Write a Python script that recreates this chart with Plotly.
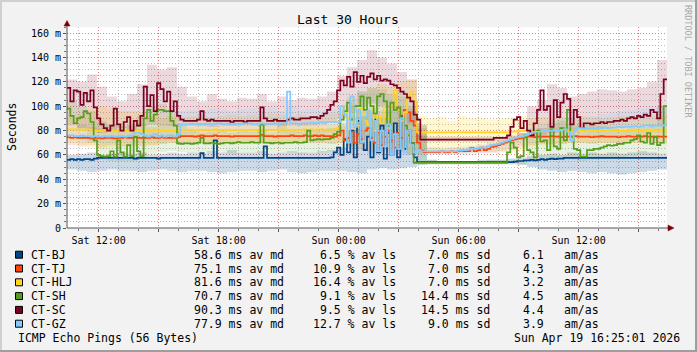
import plotly.graph_objects as go
import pandas as pd

# ---------------- data ----------------
START = pd.Timestamp("2026-04-18 10:25:00")
END = pd.Timestamp("2026-04-19 16:25:00")
STEP_MED = "10min"
STEP_SMOKE = "30min"

hosts = ["CT-BJ", "CT-TJ", "CT-HLJ", "CT-SH", "CT-SC", "CT-GZ"]
colors = ["#004586", "#FF420E", "#FFD320", "#579D1C", "#7E0021", "#83CAFF"]
smoke_alpha = [0.2, 0.14, 0.2, 0.14, 0.15, 0.16]
avg_median = ["58.6", "75.1", "81.6", "70.7", "90.3", "77.9"]
avg_loss = ["6.5", "10.9", "16.4", "9.1", "9.5", "12.7"]
avg_sd = ["7.0", "7.0", "7.0", "14.4", "14.5", "9.0"]
am_as = ["6.1", "4.3", "3.2", "4.5", "4.4", "3.9"]

y_tickvals = [0, 20, 40, 60, 80, 100, 120, 140, 160]
y_ticktext = ["0", "20 m", "40 m", "60 m", "80 m", "100 m", "120 m", "140 m", "160 m"]
x_tickvals = ["2026-04-18 12:00", "2026-04-18 15:00", "2026-04-18 18:00", "2026-04-18 21:00",
              "2026-04-19 00:00", "2026-04-19 03:00", "2026-04-19 06:00", "2026-04-19 09:00",
              "2026-04-19 12:00", "2026-04-19 15:00"]
x_ticktext = ["Sat 12:00", "", "Sat 18:00", "", "Sun 00:00", "", "Sun 06:00", "", "Sun 12:00", ""]

# median RTT (ms), one value per 10 minutes (6 per hour, 30 hours)
med_bj = [
    56, 56.5, 56, 56.5, 56, 56.5,  56.5, 56, 57, 57.5, 57.5, 57.5,
    57.5, 57.5, 57.5, 57.5, 57.5, 57.5,  57.5, 57.5, 57, 57.5, 57.5, 57.5,
    57.5, 57.5, 57.5, 57, 57.5, 57.5,  57.5, 57.5, 57.5, 57.5, 57.5, 57.5,
    57.5, 57.5, 57.5, 57.5, 61.5, 57.5,  57.5, 57.5, 72, 57.5, 57.5, 57.5,
    57.5, 57.5, 57.5, 57.5, 57.5, 57.5,  57.5, 57.5, 57.5, 57.5, 57.5, 67,
    57.5, 57.5, 57.5, 57.5, 57.5, 57.5,  57.5, 57.5, 57.5, 57.5, 57.5, 57.5,
    57.5, 57.5, 57.5, 57.5, 57.5, 57.5,  57.5, 58, 62, 66, 60, 73,
    62, 80, 58, 88, 70, 64,  75, 58, 89, 62, 84, 57,
    78, 60, 86, 58, 92, 65,  80, 70, 58, 54, 54, 54,
    54, 54, 54, 54, 54, 54,  54, 54, 54, 54, 54, 54,
    54, 54, 54, 54, 54, 54,  54, 54, 54, 54, 54, 54,
    54, 54, 54.5, 55, 55, 55.5,  55.5, 56, 55.5, 56, 56.5, 56,
    56.5, 57, 56.5, 57, 57, 57.5,  57.5, 57.5, 57.5, 57.5, 57.5, 57.5,
    57.5, 57.5, 57.5, 57.5, 57.5, 57.5,  57.5, 57.5, 57.5, 57.5, 57.5, 57.5,
    57.5, 57.5, 57.5, 57.5, 57.5, 57.5,  57.5, 57.5, 57.5, 57.5, 57.5, 57.5,
]
med_tj = [
    74.5, 74, 74.5, 74, 74, 74,  74, 73.5, 74, 74, 73.5, 74,
    74, 74, 73.5, 74, 74, 74.5,  74, 74, 74.5, 74, 74, 74,
    74, 74.5, 74, 74, 74.5, 74,  74, 74, 74, 74.5, 75.5, 75.5,
    75.5, 75.5, 75, 75.5, 76, 75.5,  75.5, 75.5, 76, 75.5, 75.5, 75.5,
    75.5, 75, 75.5, 75.5, 75.5, 75.5,  75.5, 75.5, 75.5, 75.5, 76.5, 75.5,
    75.5, 75.5, 75, 75.5, 75.5, 75.5,  75.5, 76, 75.5, 75.5, 75.5, 76,
    75.5, 75.5, 76, 75.5, 76, 75.5,  75.5, 75.5, 75, 76, 80, 72,
    74, 79, 70, 77, 73, 80,  82, 74, 70, 78, 68, 75,
    80, 72, 66, 78, 74, 97,  95, 88, 84, 70, 63.5, 62.5,
    62.5, 62.5, 62.5, 62.5, 63, 62.5,  62.5, 63, 62.5, 63, 63.5, 63,
    63, 65.5, 63, 64, 66, 64,  65, 66.5, 67, 68, 69, 70,
    71, 72, 73, 73.5, 74, 74.5,  75, 75, 74.5, 75, 75, 75,
    75, 75.5, 75, 75, 74.5, 75,  75, 75, 75.5, 75, 75, 75,
    75, 74.5, 75, 75, 75.5, 75,  75, 75, 75, 74.5, 75, 75,
    75.5, 75, 75, 75, 75, 75.5,  75, 75, 74.5, 75, 75, 75,
]
med_hlj = [
    81, 81, 81, 81, 80.5, 81,  81, 80.5, 80, 80, 79.5, 80,
    80, 80, 79.5, 80, 80, 80,  80, 80.5, 80, 80, 79.5, 80,
    80, 80, 80.5, 80, 80, 80,  80, 80, 80, 80, 80.5, 80.5,
    80.5, 80.5, 80, 80.5, 80.5, 80.5,  80.5, 80.5, 81, 80.5, 80.5, 80.5,
    80.5, 80, 80.5, 80.5, 80.5, 80,  80.5, 80.5, 80.5, 80, 80.5, 80.5,
    80.5, 80.5, 80.5, 80.5, 81, 80.5,  80.5, 80.5, 80.5, 80.5, 80.5, 81,
    80.5, 81, 80.5, 81, 81, 80.5,  80.5, 80.5, 81, 82, 93, 100,
    90, 102, 95, 84, 98, 88,  85, 96, 80, 92, 86, 99,
    90, 100, 113, 97, 88, 95,  108, 112, 104, 78.5, 78.5, 78.5,
    78.5, 78.5, 78.5, 78.5, 78.5, 78.5,  78.5, 78.5, 78.5, 78.5, 78.5, 78.5,
    78.5, 78.5, 78.5, 78.5, 78.5, 78.5,  78.5, 78.5, 78.5, 78.5, 78.5, 78.5,
    78.5, 79, 79, 79.5, 80, 80,  80, 80, 80.5, 80, 80, 80,
    80, 80.5, 80, 80, 80, 80.5,  80, 80, 80, 80.5, 80, 80,
    80.5, 80, 80, 80, 80.5, 80,  80, 80, 80.5, 80, 80, 80,
    80, 80.5, 80, 80, 80, 80.5,  80, 80, 80.5, 80, 80, 80.5,
]
med_sh = [
    98, 92, 86, 90, 91, 96,  94, 87, 72, 60, 59, 58.5,
    59, 63, 58.5, 72, 62, 58.5,  68, 59, 75, 63, 59, 90,
    97, 88, 93, 97, 97, 96,  96, 88, 84, 69.5, 69, 69.5,
    69.5, 69, 69.5, 70, 74, 69.5,  69.5, 70, 69.5, 69, 69.5, 70,
    70, 69.5, 70, 70.5, 70, 70,  70, 70.5, 70, 70, 85, 70,
    70, 69.5, 70, 70, 69.5, 70,  70, 70, 70.5, 70, 70, 70.5,
    80, 72, 72.5, 73, 72.5, 73,  73, 74, 77, 79, 89, 96,
    103, 89, 100, 100, 108, 97,  107, 100, 94, 108, 110, 104,
    84, 103, 97, 99, 90, 84,  76, 70, 53.5, 53.5, 53.5, 53.5,
    53.5, 53.5, 53.5, 53.5, 53.5, 53.5,  53.5, 53.5, 53.5, 53.5, 53.5, 53.5,
    53.5, 53.5, 53.5, 53.5, 53.5, 53.5,  53.5, 53.5, 53.5, 53.5, 53.5, 53.5,
    62, 70, 66, 58, 59, 76,  64, 62, 58, 80, 71, 72,
    64, 81, 67, 65, 82, 72,  97, 75, 65, 64, 58.5, 58.5,
    64, 64, 65, 65, 66, 67,  68, 67.5, 68, 69, 69, 70,
    70, 72, 73, 76, 71, 70,  78, 69, 75, 68, 70, 100,
]
med_sc = [
    115, 104, 113, 112, 101, 111,  104, 113, 99, 90, 85, 82,
    80, 84, 98, 85, 80, 87,  91, 80, 88, 84, 92, 116,
    100, 109, 96, 119, 114, 104,  112, 96, 104, 92, 89, 88,
    88, 88, 88, 89, 96, 89,  88, 89, 88, 88, 88, 88,
    88, 87, 88, 88, 88, 87,  88, 88, 88, 88, 99, 90,
    88, 88, 89, 88, 88, 88,  89, 90, 89, 89, 90, 90,
    90, 91, 91, 90, 92, 94,  97, 101, 104, 113, 121, 117,
    124, 116, 128, 120, 125, 119,  124, 127, 122, 125, 121, 122,
    121, 118, 117, 115, 112, 110,  107, 104, 93, 89, 72.5, 72.5,
    72.5, 72.5, 72.5, 72.5, 72.5, 72.5,  72.5, 72.5, 72.5, 72.5, 72.5, 72.5,
    72.5, 72.5, 72.5, 72.5, 72.5, 72.5,  72.5, 72.5, 74, 74, 74, 74,
    76, 83, 89, 91, 82, 88,  80, 76, 86, 97, 113, 97,
    100, 83, 105, 91, 103, 110,  106, 85, 97, 91, 82, 86,
    86, 85, 86, 86, 87, 86,  87, 87, 88, 88, 89, 88,
    90, 91, 90, 92, 91, 93,  92, 97, 95, 90, 110, 122,
]
med_gz = [
    76, 76, 75.5, 75.5, 76, 75.5,  75.5, 75, 75.5, 75, 75, 75.5,
    75, 75.5, 75, 75, 75.5, 75,  75.5, 76, 78, 78, 77, 76,
    75, 76, 77, 75, 76, 75,  76, 76, 75, 77, 85, 85,
    85, 85.5, 85, 85.5, 85, 85.5,  85.5, 85, 85.5, 86, 85.5, 85,
    85.5, 85, 85.5, 85, 85.5, 86,  86, 85.5, 85, 85.5, 86, 85.5,
    85.5, 85.5, 86, 85.5, 86, 86,  112, 86, 86, 85.5, 86, 86,
    86, 86.5, 86, 86.5, 87, 86.5,  87, 87, 87, 87, 100, 93,
    70, 108, 83, 97, 70, 91,  96, 72, 88, 63, 80, 67,
    85, 60, 77, 65, 90, 62,  80, 68, 62, 64, 63, 63,
    63, 63, 63, 63, 63, 63,  63, 63, 63, 63.5, 64, 64,
    64.5, 65, 65, 65.5, 66, 66,  67, 68, 68.5, 69, 70, 71,
    72, 73, 74, 74.5, 75, 76,  77, 78, 79, 79, 79.5, 80,
    80, 80, 80.5, 80, 80.5, 81,  79, 72, 80, 82, 82, 81.5,
    81.5, 82, 81.5, 82, 82, 82.5,  82, 82.5, 82.5, 83, 82.5, 83,
    83, 83, 83.5, 83, 83.5, 84,  84, 83.5, 84, 84, 84, 84.5,
]

# smoke (ping spread) low / high, one value per 30 minutes
lo_bj = [48, 47, 46, 47, 48, 47, 47, 46, 47, 48, 47, 46, 47, 47, 46, 45, 46, 47, 47, 46, 47, 48, 46, 45,
         46, 47, 47, 47, 46, 45, 48, 49, 48, 49, 50, 52, 53, 53, 53, 53, 53, 53, 53, 53, 53, 52, 50, 48,
         47, 46, 47, 46, 45, 46, 45, 44, 45, 46, 47, 48]
hi_bj = [60, 61, 62, 60, 61, 62, 61, 62, 60, 61, 62, 61, 62, 61, 63, 62, 64, 62, 62, 63, 61, 62, 63, 62,
         62, 63, 64, 66, 80, 92, 95, 90, 97, 92, 96, 85, 56, 55, 55, 55, 55, 56, 56, 56, 57, 58, 59, 60,
         61, 60, 62, 61, 62, 61, 62, 61, 62, 63, 62, 61]
lo_tj = [68, 67, 68, 67, 68, 67, 68, 67, 68, 69, 70, 70, 70, 69, 70, 70, 69, 70, 70, 70, 69, 70, 70, 70,
         70, 70, 69, 70, 66, 64, 62, 63, 62, 62, 61, 61, 61, 61, 61, 61, 62, 62, 62, 63, 64, 66, 68, 69,
         69, 69, 70, 70, 69, 70, 70, 69, 70, 70, 70, 69]
hi_tj = [84, 85, 83, 82, 84, 83, 84, 85, 83, 84, 85, 84, 84, 85, 84, 84, 85, 84, 84, 85, 84, 85, 84, 85,
         84, 85, 85, 86, 92, 96, 98, 96, 100, 95, 98, 84, 66, 65, 66, 66, 67, 68, 70, 72, 75, 78, 80, 82,
         82, 83, 82, 83, 82, 83, 83, 82, 84, 83, 83, 84]
lo_hlj = [70, 68, 66, 65, 66, 67, 67, 68, 68, 69, 70, 70, 70, 70, 70, 71, 70, 70, 70, 70, 71, 70, 70, 70,
          71, 70, 71, 70, 68, 66, 65, 66, 65, 64, 63, 62, 62, 62, 62, 62, 62, 62, 62, 62, 62, 63, 66, 68,
          68, 69, 70, 70, 70, 70, 70, 70, 71, 70, 71, 70]
hi_hlj = [92, 94, 98, 100, 98, 96, 96, 95, 92, 90, 92, 91, 92, 93, 91, 92, 93, 92, 93, 92, 94, 93, 92, 93,
          92, 93, 94, 95, 108, 112, 115, 118, 116, 120, 122, 92, 90, 91, 88, 92, 90, 91, 89, 90, 91, 92, 90, 91,
          90, 91, 90, 92, 91, 90, 91, 92, 90, 91, 92, 93]
lo_sh = [85, 80, 70, 56, 55, 55, 55, 56, 60, 62, 63, 62, 62, 61, 62, 62, 61, 62, 62, 62, 61, 62, 62, 61,
         62, 62, 63, 64, 68, 72, 74, 72, 70, 66, 60, 52, 52, 52, 52, 52, 52, 52, 52, 52, 52, 52, 55, 56,
         56, 57, 56, 55, 56, 57, 58, 58, 59, 60, 60, 61]
hi_sh = [105, 100, 96, 88, 85, 84, 85, 92, 100, 102, 96, 85, 80, 78, 79, 80, 78, 79, 79, 80, 78, 88, 80, 79,
         80, 80, 82, 84, 100, 112, 115, 114, 110, 108, 100, 82, 56, 55, 55, 55, 55, 55, 56, 56, 56, 56, 78, 82,
         86, 88, 84, 86, 85, 84, 82, 80, 82, 83, 85, 100]
lo_sc = [84, 82, 80, 78, 80, 82, 80, 84, 85, 84, 84, 84, 84, 84, 83, 84, 84, 84, 84, 84, 84, 84, 84, 84,
         84, 85, 86, 90, 95, 100, 102, 100, 98, 92, 86, 71, 71, 71, 71, 71, 71, 71, 71, 71, 71, 72, 75, 76,
         78, 80, 80, 80, 81, 82, 82, 83, 83, 84, 84, 84]
hi_sc = [122, 120, 126, 116, 108, 104, 110, 118, 134, 130, 132, 116, 108, 104, 110, 106, 104, 107,
         106, 110, 104, 108, 105, 107, 106, 108, 112, 125, 132, 138, 146, 140, 135, 128, 122, 76,
         75, 75, 75, 75, 75, 75, 75, 75, 76, 78, 100, 105, 118, 115, 108, 110, 112, 114,
         113, 112, 114, 115, 120, 138]
lo_gz = [71, 70, 71, 70, 70, 71, 70, 71, 72, 71, 72, 76, 77, 78, 77, 78, 77, 78, 78, 77, 78, 78, 77, 78,
         78, 78, 78, 77, 70, 65, 60, 62, 60, 60, 60, 59, 60, 60, 60, 60, 60, 61, 62, 63, 65, 68, 70, 72,
         74, 74, 75, 75, 76, 76, 76, 77, 77, 77, 78, 78]
hi_gz = [84, 85, 84, 86, 85, 84, 85, 86, 88, 85, 86, 96, 97, 96, 98, 97, 96, 97, 98, 97, 99, 96, 100, 97,
         98, 97, 98, 99, 106, 112, 114, 110, 108, 112, 104, 72, 66, 66, 66, 67, 68, 69, 70, 72, 75, 78, 82, 86,
         88, 89, 90, 91, 92, 93, 94, 96, 97, 98, 99, 100]

medians = [med_bj, med_tj, med_hlj, med_sh, med_sc, med_gz]
lows = [lo_bj, lo_tj, lo_hlj, lo_sh, lo_sc, lo_gz]
highs = [hi_bj, hi_tj, hi_hlj, hi_sh, hi_sc, hi_gz]

# ---------------- layout geometry (pixels) ----------------
W, H = 697, 352
L, T, PW, PH = 67, 27, 600, 201
FONT = "DejaVu Sans Mono"


def px(x):
    return (x - L) / PW


def py(y):
    return (T + PH - y) / PH


def rgba(hexc, a):
    h = hexc.lstrip("#")
    return "rgba(%d,%d,%d,%.2f)" % (int(h[0:2], 16), int(h[2:4], 16), int(h[4:6], 16), a)


t_med = list(pd.date_range(START, periods=len(med_bj) + 1, freq=STEP_MED))
t_smk = list(pd.date_range(START, periods=len(lo_bj) + 1, freq=STEP_SMOKE))

fig = go.Figure()

# smoke bands
for name, c, a, lo, hi in zip(hosts, colors, smoke_alpha, lows, highs):
    fig.add_trace(go.Scatter(x=t_smk, y=lo + [lo[-1]], mode="lines",
                             line=dict(width=0, shape="hv"), hoverinfo="skip", showlegend=False))
    fig.add_trace(go.Scatter(x=t_smk, y=hi + [hi[-1]], mode="lines", fill="tonexty",
                             fillcolor=rgba(c, a), line=dict(width=0, shape="hv"),
                             hoverinfo="skip", showlegend=False))

# median lines
for name, c, m in zip(hosts, colors, medians):
    fig.add_trace(go.Scatter(x=t_med, y=m + [m[-1]], mode="lines", name=name,
                             line=dict(color=c, width=1.7, shape="hv"), showlegend=False))

grid_major = "rgba(255,80,80,0.55)"
grid_minor = "rgba(170,170,170,0.8)"

fig.update_xaxes(
    type="date", range=[START, END], tickmode="array", tickvals=x_tickvals, ticktext=x_ticktext,
    showgrid=True, gridcolor=grid_major, griddash="1px,2px", gridwidth=1,
    ticks="outside", ticklen=3, tickcolor="#555", tickfont=dict(family=FONT, size=10, color="#000"),
    minor=dict(dtick=3600000, tick0="2026-04-18 11:00", showgrid=True, gridcolor=grid_minor,
               griddash="1px,2px", ticks="outside", ticklen=2, tickcolor="#777"),
    showline=False, zeroline=False, fixedrange=True,
)
fig.update_yaxes(
    range=[0, 165], tickmode="array", tickvals=y_tickvals, ticktext=y_ticktext,
    showgrid=True, gridcolor=grid_major, griddash="1px,2px", gridwidth=1,
    ticks="outside", ticklen=3, tickcolor="#555", tickfont=dict(family=FONT, size=10, color="#000"),
    minor=dict(dtick=5, showgrid=True, gridcolor=grid_minor, griddash="1px,2px",
               ticks="outside", ticklen=2, tickcolor="#777"),
    showline=False, zeroline=False, fixedrange=True,
)

shapes = []
# axis lines with arrow heads
shapes.append(dict(type="line", xref="paper", yref="paper", x0=px(67), x1=px(670), y0=py(228), y1=py(228),
                   line=dict(color="#555", width=1)))
shapes.append(dict(type="line", xref="paper", yref="paper", x0=px(67), x1=px(67), y0=py(228), y1=py(24),
                   line=dict(color="#555", width=1)))
shapes.append(dict(type="path", xref="paper", yref="paper",
                   path="M %f %f L %f %f L %f %f Z" % (px(668), py(225), px(674), py(228), px(668), py(231)),
                   fillcolor="#7f0000", line=dict(color="#7f0000", width=0.5)))
shapes.append(dict(type="path", xref="paper", yref="paper",
                   path="M %f %f L %f %f L %f %f Z" % (px(64), py(26), px(67), py(20.5), px(70), py(26)),
                   fillcolor="#7f0000", line=dict(color="#7f0000", width=0.5)))
# 3D border of canvas
shapes.append(dict(type="rect", xref="paper", yref="paper", x0=px(0), x1=px(W), y0=py(0), y1=py(2),
                   fillcolor="#d0d0d0", line=dict(width=0)))
shapes.append(dict(type="rect", xref="paper", yref="paper", x0=px(0), x1=px(2), y0=py(0), y1=py(H),
                   fillcolor="#d0d0d0", line=dict(width=0)))
shapes.append(dict(type="rect", xref="paper", yref="paper", x0=px(W - 2), x1=px(W), y0=py(0), y1=py(H),
                   fillcolor="#9e9e9e", line=dict(width=0)))
shapes.append(dict(type="rect", xref="paper", yref="paper", x0=px(0), x1=px(W), y0=py(H - 2), y1=py(H),
                   fillcolor="#9e9e9e", line=dict(width=0)))

ann = []


def text(x, y, s, size=11.5, anchor="left", color="#000", angle=0):
    ann.append(dict(x=px(x), y=py(y), xref="paper", yref="paper", text=s, showarrow=False,
                    xanchor=anchor, yanchor="middle", textangle=angle, borderpad=0,
                    font=dict(family=FONT, size=size, color=color)))


text(348, 19.3, "Last 30 Hours", size=13, anchor="center")
text(11.5, 127.5, "Seconds", size=11.5, anchor="center", angle=-90)
text(688, 61, "RRDTOOL / TOBI OETIKER", size=8.5, anchor="center", color="#a8a8a8", angle=90)

row0, drow = 254.7, 13.8
for i, (name, c) in enumerate(zip(hosts, colors)):
    y = row0 + i * drow
    shapes.append(dict(type="rect", xref="paper", yref="paper", x0=px(15.5), x1=px(22.5),
                       y0=py(y - 3.5), y1=py(y + 3.5), fillcolor=c, line=dict(color="#000", width=1)))
    text(30, y, name)
    text(193.3, y, avg_median[i] + " ms av md")
    text(397, y, avg_loss[i] + " % av ls", anchor="right")
    text(491, y, avg_sd[i] + " ms sd", anchor="right")
    text(521.7, y, am_as[i])
    text(563.3, y, "am/as")

text(16.7, 338.2, "ICMP Echo Pings (56 Bytes)")
text(681, 338.2, "Sun Apr 19 16:25:01 2026", anchor="right")

fig.update_layout(
    width=W, height=H, margin=dict(l=L, r=W - L - PW, t=T, b=H - T - PH, pad=0),
    paper_bgcolor="#f2f2f2", plot_bgcolor="#ffffff", showlegend=False,
    shapes=shapes, annotations=ann, hovermode=False,
)

fig.write_html("out.html")
